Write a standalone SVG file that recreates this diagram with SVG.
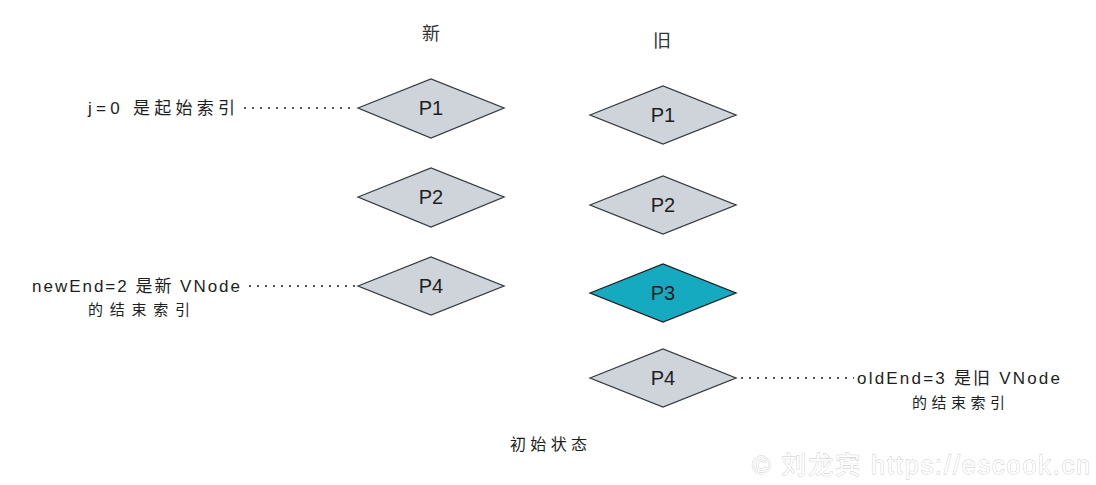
<svg xmlns="http://www.w3.org/2000/svg" width="1096" height="485" viewBox="0 0 1096 485">
<style>
.d{fill:#ced4da;stroke:#343a40;stroke-width:1.3}
.c{fill:#15aabf;stroke:#1e1e1e;stroke-width:1.3}
.t{font-family:"Liberation Sans","Noto Sans CJK SC",sans-serif;fill:#1e1e1e}
.p{font-size:20px;text-anchor:middle}
.l{font-size:17px}
.h{font-size:18px;text-anchor:middle;fill:#333}
.dot{stroke:#1e1e1e;stroke-width:1.6;stroke-dasharray:2 6;fill:none}
.wm{font-family:"Liberation Sans","Noto Sans CJK SC",sans-serif;font-size:25px;fill:#fff;stroke:#c8c8c8;stroke-width:0.8;paint-order:stroke}
</style>
<rect width="1096" height="485" fill="#fff"/>
<text class="t h" x="431" y="40">新</text>
<text class="t h" x="662" y="47">旧</text>
<g id="connectors">
<line class="dot" x1="244" y1="108" x2="356" y2="108"/>
<line class="dot" x1="249" y1="286" x2="356" y2="286"/>
<line class="dot" x1="741" y1="378" x2="854" y2="378"/>
</g>
<g id="new-p1"><polygon class="d" points="358,108 431,79 504,108 431,138"/><text class="t p" x="431" y="115">P1</text></g>
<g id="new-p2"><polygon class="d" points="358,197 431,168 504,197 431,227"/><text class="t p" x="431" y="204">P2</text></g>
<g id="new-p4"><polygon class="d" points="358,286 431,257 504,286 431,315"/><text class="t p" x="431" y="293">P4</text></g>
<g id="old-p1"><polygon class="d" points="590,115 663,86 736,115 663,144"/><text class="t p" x="663" y="122">P1</text></g>
<g id="old-p2"><polygon class="d" points="590,205 663,176 736,205 663,234"/><text class="t p" x="663" y="212">P2</text></g>
<g id="old-p3"><polygon class="c" points="590,293 663,264 736,293 663,322"/><text class="t p" x="663" y="300">P3</text></g>
<g id="old-p4"><polygon class="d" points="590,378 663,349 736,378 663,407"/><text class="t p" x="663" y="385">P4</text></g>
<g id="label-j"><text class="t l" x="88" y="114" textLength="147" lengthAdjust="spacing">j=0 是起始索引</text></g>
<g id="label-newEnd"><text class="t l" x="32" y="292" textLength="208" lengthAdjust="spacing">newEnd=2 是新 VNode</text><text class="t" font-size="15" x="88" y="315" textLength="102" lengthAdjust="spacing">的结束索引</text></g>
<g id="label-oldEnd"><text class="t l" x="857" y="384" textLength="203" lengthAdjust="spacing">oldEnd=3 是旧 VNode</text><text class="t" font-size="15" x="912" y="408" textLength="93" lengthAdjust="spacing">的结束索引</text></g>
<text class="t" font-size="16" x="510" y="450" textLength="77" lengthAdjust="spacing" fill="#333">初始状态</text>
<text class="wm" x="752" y="474" textLength="338" lengthAdjust="spacing">© 刘龙宾 https://escook.cn</text>
</svg>
